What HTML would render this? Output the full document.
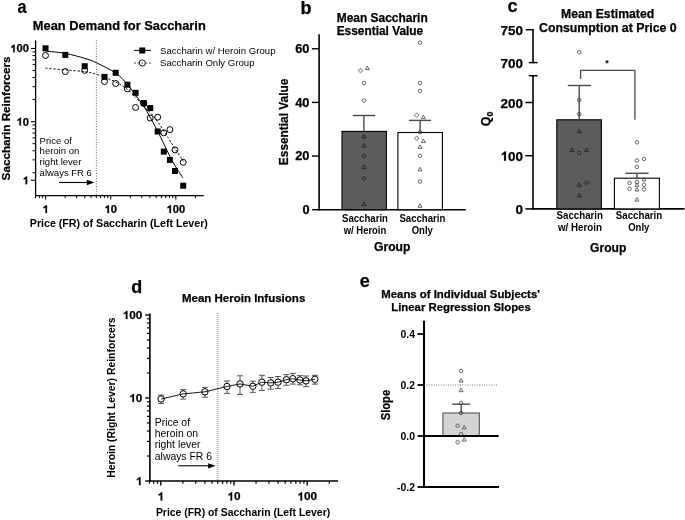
<!DOCTYPE html>
<html><head><meta charset="utf-8"><style>
html,body{margin:0;padding:0;background:#fff;}
.h{stroke:#000;stroke-width:0.25px;}
svg{display:block;filter:blur(0.3px);font-family:"Liberation Sans",sans-serif;}
</style></head><body>
<svg width="685" height="520" viewBox="0 0 685 520">
<rect width="685" height="520" fill="#fff"/>
<text x="17.45" y="12.7" font-size="18" font-weight="bold" class="h" textLength="9.1" lengthAdjust="spacingAndGlyphs" >a</text>
<text x="32.8" y="29.9" font-size="12.8" font-weight="bold" class="h" textLength="173" lengthAdjust="spacingAndGlyphs" >Mean Demand for Saccharin</text>
<line x1="35.6" y1="40.4" x2="35.6" y2="196.25" stroke="#000" stroke-width="1.3" />
<line x1="34.95" y1="195.6" x2="203.7" y2="195.6" stroke="#000" stroke-width="1.3" />
<line x1="31" y1="48.5" x2="35.6" y2="48.5" stroke="#000" stroke-width="1.1" />
<line x1="31" y1="121.7" x2="35.6" y2="121.7" stroke="#000" stroke-width="1.1" />
<line x1="31" y1="180.3" x2="35.6" y2="180.3" stroke="#000" stroke-width="1.1" />
<line x1="32.5" y1="99.52" x2="35.6" y2="99.52" stroke="#000" stroke-width="1" />
<line x1="32.5" y1="172.72" x2="35.6" y2="172.72" stroke="#000" stroke-width="1" />
<line x1="32.5" y1="86.67" x2="35.6" y2="86.67" stroke="#000" stroke-width="1" />
<line x1="32.5" y1="159.87" x2="35.6" y2="159.87" stroke="#000" stroke-width="1" />
<line x1="32.5" y1="77.55" x2="35.6" y2="77.55" stroke="#000" stroke-width="1" />
<line x1="32.5" y1="150.75" x2="35.6" y2="150.75" stroke="#000" stroke-width="1" />
<line x1="32.5" y1="70.48" x2="35.6" y2="70.48" stroke="#000" stroke-width="1" />
<line x1="32.5" y1="143.68" x2="35.6" y2="143.68" stroke="#000" stroke-width="1" />
<line x1="32.5" y1="64.69" x2="35.6" y2="64.69" stroke="#000" stroke-width="1" />
<line x1="32.5" y1="137.89" x2="35.6" y2="137.89" stroke="#000" stroke-width="1" />
<line x1="32.5" y1="59.81" x2="35.6" y2="59.81" stroke="#000" stroke-width="1" />
<line x1="32.5" y1="133.01" x2="35.6" y2="133.01" stroke="#000" stroke-width="1" />
<line x1="32.5" y1="55.57" x2="35.6" y2="55.57" stroke="#000" stroke-width="1" />
<line x1="32.5" y1="128.77" x2="35.6" y2="128.77" stroke="#000" stroke-width="1" />
<line x1="32.5" y1="51.84" x2="35.6" y2="51.84" stroke="#000" stroke-width="1" />
<line x1="32.5" y1="125.04" x2="35.6" y2="125.04" stroke="#000" stroke-width="1" />
<path d="M818 0L543 0L543 1000C470 930 330 870 185 830L185 1065C290 1105 390 1165 470 1240C540 1305 590 1360 622 1409L818 1409Z" fill="#000" stroke="#000" stroke-width="0.25" vector-effect="non-scaling-stroke" transform="translate(10.21 52.35) scale(0.00547 -0.00547)"/>
<text x="16.44" y="52.35" font-size="11.2" font-weight="bold" class="h">00</text>
<path d="M818 0L543 0L543 1000C470 930 330 870 185 830L185 1065C290 1105 390 1165 470 1240C540 1305 590 1360 622 1409L818 1409Z" fill="#000" stroke="#000" stroke-width="0.25" vector-effect="non-scaling-stroke" transform="translate(16.44 125.55) scale(0.00547 -0.00547)"/>
<text x="22.67" y="125.55" font-size="11.2" font-weight="bold" class="h">0</text>
<path d="M818 0L543 0L543 1000C470 930 330 870 185 830L185 1065C290 1105 390 1165 470 1240C540 1305 590 1360 622 1409L818 1409Z" fill="#000" stroke="#000" stroke-width="0.25" vector-effect="non-scaling-stroke" transform="translate(22.67 184.15) scale(0.00547 -0.00547)"/>
<line x1="45.6" y1="195.6" x2="45.6" y2="199.6" stroke="#000" stroke-width="1.1" />
<line x1="110.7" y1="195.6" x2="110.7" y2="199.6" stroke="#000" stroke-width="1.1" />
<line x1="175.8" y1="195.6" x2="175.8" y2="199.6" stroke="#000" stroke-width="1.1" />
<line x1="35.52" y1="195.6" x2="35.52" y2="198.2" stroke="#000" stroke-width="1" />
<line x1="39.29" y1="195.6" x2="39.29" y2="198.2" stroke="#000" stroke-width="1" />
<line x1="42.62" y1="195.6" x2="42.62" y2="198.2" stroke="#000" stroke-width="1" />
<line x1="65.2" y1="195.6" x2="65.2" y2="198.2" stroke="#000" stroke-width="1" />
<line x1="76.66" y1="195.6" x2="76.66" y2="198.2" stroke="#000" stroke-width="1" />
<line x1="84.79" y1="195.6" x2="84.79" y2="198.2" stroke="#000" stroke-width="1" />
<line x1="91.1" y1="195.6" x2="91.1" y2="198.2" stroke="#000" stroke-width="1" />
<line x1="96.26" y1="195.6" x2="96.26" y2="198.2" stroke="#000" stroke-width="1" />
<line x1="100.62" y1="195.6" x2="100.62" y2="198.2" stroke="#000" stroke-width="1" />
<line x1="104.39" y1="195.6" x2="104.39" y2="198.2" stroke="#000" stroke-width="1" />
<line x1="107.72" y1="195.6" x2="107.72" y2="198.2" stroke="#000" stroke-width="1" />
<line x1="130.3" y1="195.6" x2="130.3" y2="198.2" stroke="#000" stroke-width="1" />
<line x1="141.76" y1="195.6" x2="141.76" y2="198.2" stroke="#000" stroke-width="1" />
<line x1="149.89" y1="195.6" x2="149.89" y2="198.2" stroke="#000" stroke-width="1" />
<line x1="156.2" y1="195.6" x2="156.2" y2="198.2" stroke="#000" stroke-width="1" />
<line x1="161.36" y1="195.6" x2="161.36" y2="198.2" stroke="#000" stroke-width="1" />
<line x1="165.72" y1="195.6" x2="165.72" y2="198.2" stroke="#000" stroke-width="1" />
<line x1="169.49" y1="195.6" x2="169.49" y2="198.2" stroke="#000" stroke-width="1" />
<line x1="172.82" y1="195.6" x2="172.82" y2="198.2" stroke="#000" stroke-width="1" />
<line x1="195.4" y1="195.6" x2="195.4" y2="198.2" stroke="#000" stroke-width="1" />
<path d="M818 0L543 0L543 1000C470 930 330 870 185 830L185 1065C290 1105 390 1165 470 1240C540 1305 590 1360 622 1409L818 1409Z" fill="#000" stroke="#000" stroke-width="0.25" vector-effect="non-scaling-stroke" transform="translate(42.49 212.9) scale(0.00547 -0.00547)"/>
<path d="M818 0L543 0L543 1000C470 930 330 870 185 830L185 1065C290 1105 390 1165 470 1240C540 1305 590 1360 622 1409L818 1409Z" fill="#000" stroke="#000" stroke-width="0.25" vector-effect="non-scaling-stroke" transform="translate(104.47 212.9) scale(0.00547 -0.00547)"/>
<text x="110.7" y="212.9" font-size="11.2" font-weight="bold" class="h">0</text>
<path d="M818 0L543 0L543 1000C470 930 330 870 185 830L185 1065C290 1105 390 1165 470 1240C540 1305 590 1360 622 1409L818 1409Z" fill="#000" stroke="#000" stroke-width="0.25" vector-effect="non-scaling-stroke" transform="translate(166.46 212.9) scale(0.00547 -0.00547)"/>
<text x="172.69" y="212.9" font-size="11.2" font-weight="bold" class="h">00</text>
<text x="29.8" y="226.8" font-size="10.6" font-weight="bold" textLength="178.1" lengthAdjust="spacingAndGlyphs" >Price (FR) of Saccharin (Left Lever)</text>
<text x="9.7" y="118.4" font-size="11.6" text-anchor="middle" font-weight="bold" class="h" textLength="124" lengthAdjust="spacingAndGlyphs" transform="rotate(-90 9.7 118.4)" >Saccharin Reinforcers</text>
<line x1="96.4" y1="40.4" x2="96.4" y2="195.6" stroke="#444" stroke-width="0.8" stroke-dasharray="1 1.6"/>
<text x="39.6" y="143.75" font-size="9.5" >Price of</text>
<text x="39.6" y="154.3" font-size="9.5" >heroin on</text>
<text x="39.6" y="164.9" font-size="9.5" >right lever</text>
<text x="39.6" y="175.5" font-size="9.5" >always FR 6</text>
<line x1="59" y1="182.5" x2="88" y2="182.5" stroke="#000" stroke-width="1.1" />
<path d="M86.8 179.8L94.4 182.5L86.8 185.2Z" fill="#000" stroke="none" stroke-width="0" />
<line x1="134.1" y1="50.4" x2="150.9" y2="50.4" stroke="#000" stroke-width="1" />
<rect x="139.25" y="47.5" width="6" height="6" fill="#000" stroke="none" stroke-width="0"/>
<text x="160" y="53.6" font-size="9.6" textLength="115.5" lengthAdjust="spacingAndGlyphs" >Saccharin w/ Heroin Group</text>
<path d="M134.1 63H135.9M137.6 63H138.8M141.5 63H143.1M146.2 63H147.4M149.1 63H150.8" fill="none" stroke="#333" stroke-width="1" />
<circle cx="142.3" cy="63" r="3.1" fill="none" stroke="#000" stroke-width="0.95"/>
<text x="160" y="65.6" font-size="9.6" textLength="94.5" lengthAdjust="spacingAndGlyphs" >Saccharin Only Group</text>
<path d="M45.5 68.2C48.8 68.48 58.77 69.32 65.3 69.9C71.83 70.48 79.5 70.95 84.7 71.7C89.9 72.45 91.32 72.68 96.5 74.4C101.68 76.12 110.67 79.48 115.8 82C120.93 84.52 123.95 86.92 127.3 89.5C130.65 92.08 133.18 94.67 135.9 97.5C138.62 100.33 141.07 103.78 143.65 106.5C146.23 109.22 148.94 111.1 151.4 113.8C153.86 116.5 155.65 118.77 158.4 122.7C161.15 126.63 165.13 133.08 167.9 137.4C170.67 141.72 172.42 144.58 175 148.6C177.58 152.62 182 159.35 183.4 161.5" fill="none" stroke="#000" stroke-width="0.95" stroke-dasharray="2.2 1.8"/>
<path d="M45.5 51C48.8 51.4 58.77 52.18 65.3 53.4C71.83 54.62 79.5 56.73 84.7 58.3C89.9 59.87 91.32 60.32 96.5 62.8C101.68 65.28 110.67 69.63 115.8 73.2C120.93 76.77 123.95 80.48 127.3 84.2C130.65 87.92 133.18 91.87 135.9 95.5C138.62 99.13 141.28 102.38 143.65 106C146.02 109.62 147.76 113 150.1 117.2C152.44 121.4 155.42 126.77 157.7 131.2C159.98 135.63 161.77 139.62 163.8 143.8C165.83 147.98 167.73 152.17 169.9 156.3C172.07 160.43 174.63 165.02 176.8 168.6C178.97 172.18 181.88 176.27 182.9 177.8" fill="none" stroke="#000" stroke-width="1" />
<circle cx="45.5" cy="55.5" r="3" fill="none" stroke="#000" stroke-width="1"/>
<circle cx="65.3" cy="71.5" r="3" fill="none" stroke="#000" stroke-width="1"/>
<circle cx="84.7" cy="70.3" r="3" fill="none" stroke="#000" stroke-width="1"/>
<circle cx="104.5" cy="81.5" r="3" fill="none" stroke="#000" stroke-width="1"/>
<circle cx="115.7" cy="83.5" r="3" fill="none" stroke="#000" stroke-width="1"/>
<circle cx="127.4" cy="88.8" r="3" fill="none" stroke="#000" stroke-width="1"/>
<circle cx="135.6" cy="107.5" r="3" fill="none" stroke="#000" stroke-width="1"/>
<circle cx="143.7" cy="103.5" r="3" fill="none" stroke="#000" stroke-width="1"/>
<circle cx="150.2" cy="118" r="3" fill="none" stroke="#000" stroke-width="1"/>
<circle cx="157.7" cy="117.2" r="3" fill="none" stroke="#000" stroke-width="1"/>
<circle cx="163.8" cy="132.8" r="3" fill="none" stroke="#000" stroke-width="1"/>
<circle cx="169.9" cy="129.6" r="3" fill="none" stroke="#000" stroke-width="1"/>
<circle cx="175" cy="149.9" r="3" fill="none" stroke="#000" stroke-width="1"/>
<circle cx="183.2" cy="162.3" r="3" fill="none" stroke="#000" stroke-width="1"/>
<rect x="42.5" y="45.3" width="6" height="6" fill="#000" stroke="none" stroke-width="0"/>
<rect x="62.3" y="51.9" width="6" height="6" fill="#000" stroke="none" stroke-width="0"/>
<rect x="81.7" y="63.2" width="6" height="6" fill="#000" stroke="none" stroke-width="0"/>
<rect x="101.5" y="73.9" width="6" height="6" fill="#000" stroke="none" stroke-width="0"/>
<rect x="112.7" y="69.8" width="6" height="6" fill="#000" stroke="none" stroke-width="0"/>
<rect x="124.4" y="81.7" width="6" height="6" fill="#000" stroke="none" stroke-width="0"/>
<rect x="132.6" y="89.8" width="6" height="6" fill="#000" stroke="none" stroke-width="0"/>
<rect x="140.7" y="100.1" width="6" height="6" fill="#000" stroke="none" stroke-width="0"/>
<rect x="147.2" y="105.1" width="6" height="6" fill="#000" stroke="none" stroke-width="0"/>
<rect x="154.7" y="128.5" width="6" height="6" fill="#000" stroke="none" stroke-width="0"/>
<rect x="160.8" y="148.6" width="6" height="6" fill="#000" stroke="none" stroke-width="0"/>
<rect x="166.9" y="156.9" width="6" height="6" fill="#000" stroke="none" stroke-width="0"/>
<rect x="172" y="168" width="6" height="6" fill="#000" stroke="none" stroke-width="0"/>
<rect x="180.2" y="182.7" width="6" height="6" fill="#000" stroke="none" stroke-width="0"/>
<text x="300.5" y="14.2" font-size="18" font-weight="bold" class="h" >b</text>
<text x="336.7" y="21.6" font-size="11.9" font-weight="bold" class="h" textLength="91" lengthAdjust="spacingAndGlyphs" >Mean Saccharin</text>
<text x="336.7" y="35.1" font-size="11.9" font-weight="bold" class="h" textLength="86.5" lengthAdjust="spacingAndGlyphs" >Essential Value</text>
<line x1="319.1" y1="34.2" x2="319.1" y2="210.5" stroke="#000" stroke-width="1.6" />
<line x1="318.3" y1="209.7" x2="465.8" y2="209.7" stroke="#000" stroke-width="1.6" />
<line x1="312" y1="209.7" x2="319.1" y2="209.7" stroke="#000" stroke-width="1.4" />
<text x="302.38" y="214.1" font-size="12.8" font-weight="bold" class="h">0</text>
<line x1="312" y1="156.05" x2="319.1" y2="156.05" stroke="#000" stroke-width="1.4" />
<text x="295.26" y="160.45" font-size="12.8" font-weight="bold" class="h">20</text>
<line x1="312" y1="102.4" x2="319.1" y2="102.4" stroke="#000" stroke-width="1.4" />
<text x="295.26" y="106.8" font-size="12.8" font-weight="bold" class="h">40</text>
<line x1="312" y1="48.75" x2="319.1" y2="48.75" stroke="#000" stroke-width="1.4" />
<text x="295.26" y="53.15" font-size="12.8" font-weight="bold" class="h">60</text>
<text x="288.3" y="121.9" font-size="11.9" text-anchor="middle" font-weight="bold" class="h" textLength="86.5" lengthAdjust="spacingAndGlyphs" transform="rotate(-90 288.3 121.9)" >Essential Value</text>
<rect x="342" y="131.4" width="44.4" height="78.3" fill="#5c5c5c" stroke="#000" stroke-width="1.1"/>
<rect x="397.9" y="132.5" width="44.5" height="77.2" fill="#fff" stroke="#000" stroke-width="1.1"/>
<line x1="363.9" y1="115.5" x2="363.9" y2="131.4" stroke="#4a4a4a" stroke-width="1.4" />
<line x1="352.8" y1="115.5" x2="375" y2="115.5" stroke="#4a4a4a" stroke-width="1.4" />
<line x1="420.1" y1="120.4" x2="420.1" y2="132.5" stroke="#4a4a4a" stroke-width="1.4" />
<line x1="409" y1="120.4" x2="431" y2="120.4" stroke="#4a4a4a" stroke-width="1.4" />
<path d="M360.5 68.3L362.8 70.6L360.5 72.9L358.2 70.6Z" fill="none" stroke="#3a3a3a" stroke-width="0.75" />
<path d="M365.3 69.5L367.3 66L369.3 69.5Z" fill="none" stroke="#3a3a3a" stroke-width="0.75" />
<circle cx="364" cy="83" r="1.75" fill="none" stroke="#3a3a3a" stroke-width="0.75"/>
<circle cx="364" cy="100.5" r="1.75" fill="none" stroke="#3a3a3a" stroke-width="0.75"/>
<path d="M361.9 138.1L363.9 134.6L365.9 138.1Z" fill="none" stroke="#1a1a1a" stroke-width="0.75" />
<path d="M361.9 147.1L363.9 143.6L365.9 147.1Z" fill="none" stroke="#1a1a1a" stroke-width="0.75" />
<circle cx="363.9" cy="155.8" r="1.75" fill="none" stroke="#1a1a1a" stroke-width="0.75"/>
<path d="M361.9 168.5L363.9 165L365.9 168.5Z" fill="none" stroke="#1a1a1a" stroke-width="0.75" />
<circle cx="363.9" cy="178.5" r="1.75" fill="none" stroke="#1a1a1a" stroke-width="0.75"/>
<path d="M361.9 205.5L363.9 202L365.9 205.5Z" fill="none" stroke="#1a1a1a" stroke-width="0.75" />
<circle cx="420" cy="42.6" r="1.75" fill="none" stroke="#3a3a3a" stroke-width="0.75"/>
<circle cx="420" cy="83" r="1.75" fill="none" stroke="#3a3a3a" stroke-width="0.75"/>
<circle cx="420" cy="90.9" r="1.75" fill="none" stroke="#3a3a3a" stroke-width="0.75"/>
<path d="M416.7 112.9L419 115.2L416.7 117.5L414.4 115.2Z" fill="none" stroke="#3a3a3a" stroke-width="0.75" />
<path d="M421.4 118.7L423.4 115.2L425.4 118.7Z" fill="none" stroke="#3a3a3a" stroke-width="0.75" />
<circle cx="420.1" cy="132.2" r="1.75" fill="none" stroke="#3a3a3a" stroke-width="0.75"/>
<path d="M416.7 136L419 138.3L416.7 140.6L414.4 138.3Z" fill="none" stroke="#3a3a3a" stroke-width="0.75" />
<path d="M421.4 142.5L423.4 139L425.4 142.5Z" fill="none" stroke="#3a3a3a" stroke-width="0.75" />
<path d="M418.1 148.4L420.1 144.9L422.1 148.4Z" fill="none" stroke="#3a3a3a" stroke-width="0.75" />
<circle cx="420" cy="155.8" r="1.75" fill="none" stroke="#3a3a3a" stroke-width="0.75"/>
<path d="M418 170.8L420 167.3L422 170.8Z" fill="none" stroke="#3a3a3a" stroke-width="0.75" />
<circle cx="420" cy="181.5" r="1.75" fill="none" stroke="#3a3a3a" stroke-width="0.75"/>
<path d="M418 207.3L420 203.8L422 207.3Z" fill="none" stroke="#3a3a3a" stroke-width="0.75" />
<text x="365" y="221.9" font-size="10.2" text-anchor="middle" font-weight="bold" textLength="46" lengthAdjust="spacingAndGlyphs" >Saccharin</text>
<text x="365" y="233.5" font-size="10.2" text-anchor="middle" font-weight="bold" textLength="42.6" lengthAdjust="spacingAndGlyphs" >w/ Heroin</text>
<text x="422.4" y="221.9" font-size="10.2" text-anchor="middle" font-weight="bold" textLength="46" lengthAdjust="spacingAndGlyphs" >Saccharin</text>
<text x="422.3" y="233.5" font-size="10.2" text-anchor="middle" font-weight="bold" textLength="21.2" lengthAdjust="spacingAndGlyphs" >Only</text>
<text x="374.1" y="251.3" font-size="12.4" font-weight="bold" class="h" textLength="36.3" lengthAdjust="spacingAndGlyphs" >Group</text>

<text x="507.4" y="11.5" font-size="18" font-weight="bold" class="h" >c</text>
<text x="561" y="17.7" font-size="12.3" font-weight="bold" class="h" textLength="93.2" lengthAdjust="spacingAndGlyphs" >Mean Estimated</text>
<text x="539" y="31.7" font-size="12.3" font-weight="bold" class="h" textLength="137.7" lengthAdjust="spacingAndGlyphs" >Consumption at Price 0</text>
<line x1="533" y1="28.9" x2="533" y2="62.6" stroke="#000" stroke-width="1.6" />
<line x1="525.7" y1="29.7" x2="533" y2="29.7" stroke="#000" stroke-width="1.5" />
<line x1="528.8" y1="62.6" x2="537.6" y2="62.6" stroke="#000" stroke-width="1.5" />
<line x1="533" y1="75.7" x2="533" y2="209.7" stroke="#000" stroke-width="1.6" />
<line x1="528.8" y1="75.7" x2="537.6" y2="75.7" stroke="#000" stroke-width="1.5" />
<line x1="525.4" y1="208.9" x2="533" y2="208.9" stroke="#000" stroke-width="1.5" />
<line x1="525.4" y1="155.7" x2="533" y2="155.7" stroke="#000" stroke-width="1.5" />
<line x1="525.4" y1="102.5" x2="533" y2="102.5" stroke="#000" stroke-width="1.5" />
<text x="500.57" y="34.7" font-size="13.5" font-weight="bold" class="h">750</text>
<text x="500.57" y="67.6" font-size="13.5" font-weight="bold" class="h">700</text>
<text x="500.57" y="107.5" font-size="13.5" font-weight="bold" class="h">200</text>
<path d="M818 0L543 0L543 1000C470 930 330 870 185 830L185 1065C290 1105 390 1165 470 1240C540 1305 590 1360 622 1409L818 1409Z" fill="#000" stroke="#000" stroke-width="0.25" vector-effect="non-scaling-stroke" transform="translate(500.57 160.7) scale(0.00659 -0.00659)"/>
<text x="508.08" y="160.7" font-size="13.5" font-weight="bold" class="h">00</text>
<text x="515.59" y="213.9" font-size="13.5" font-weight="bold" class="h">0</text>
<line x1="532.2" y1="208.9" x2="684.5" y2="208.9" stroke="#000" stroke-width="1.6" />
<text x="0" y="0" font-size="12.4" font-weight="bold" class="h" transform="translate(490.2 126.2) rotate(-90)">Q<tspan font-size="8.8" dy="2.6">0</tspan></text>
<rect x="556.8" y="119.8" width="44.6" height="89.1" fill="#5c5c5c" stroke="#000" stroke-width="1.1"/>
<rect x="614.4" y="178.2" width="45" height="30.7" fill="#fff" stroke="#000" stroke-width="1.1"/>
<line x1="579.2" y1="85.5" x2="579.2" y2="119.8" stroke="#4a4a4a" stroke-width="1.4" />
<line x1="567.8" y1="85.5" x2="590.9" y2="85.5" stroke="#4a4a4a" stroke-width="1.4" />
<line x1="636.9" y1="173.3" x2="636.9" y2="178.2" stroke="#4a4a4a" stroke-width="1.4" />
<line x1="625.4" y1="173.3" x2="648.6" y2="173.3" stroke="#4a4a4a" stroke-width="1.4" />
<path d="M580.6 78.9V70.3H634.9V119.7" fill="none" stroke="#4a4a4a" stroke-width="1.3" />
<text x="607" y="66" font-size="9" text-anchor="middle" font-weight="bold" >*</text>
<circle cx="579.2" cy="52.3" r="1.75" fill="none" stroke="#3a3a3a" stroke-width="0.75"/>
<circle cx="579.2" cy="100.1" r="1.75" fill="none" stroke="#3a3a3a" stroke-width="0.75"/>
<circle cx="579.2" cy="114.1" r="1.75" fill="none" stroke="#3a3a3a" stroke-width="0.75"/>
<path d="M577.2 132.6L579.2 129.1L581.2 132.6Z" fill="none" stroke="#1a1a1a" stroke-width="0.75" />
<path d="M570 151.4L572 147.9L574 151.4Z" fill="none" stroke="#1a1a1a" stroke-width="0.75" />
<circle cx="579.2" cy="152.9" r="1.75" fill="none" stroke="#1a1a1a" stroke-width="0.75"/>
<path d="M584.6 151.4L586.6 147.9L588.6 151.4Z" fill="none" stroke="#1a1a1a" stroke-width="0.75" />
<circle cx="586.6" cy="182.6" r="1.75" fill="none" stroke="#1a1a1a" stroke-width="0.75"/>
<path d="M577.2 186.4L579.2 182.9L581.2 186.4Z" fill="none" stroke="#1a1a1a" stroke-width="0.75" />
<path d="M577.2 197L579.2 193.5L581.2 197Z" fill="none" stroke="#1a1a1a" stroke-width="0.75" />
<circle cx="636.9" cy="142.3" r="1.75" fill="none" stroke="#3a3a3a" stroke-width="0.75"/>
<circle cx="636.9" cy="160.5" r="1.75" fill="none" stroke="#3a3a3a" stroke-width="0.75"/>
<circle cx="644" cy="158.9" r="1.75" fill="none" stroke="#3a3a3a" stroke-width="0.75"/>
<circle cx="636.9" cy="166.9" r="1.75" fill="none" stroke="#3a3a3a" stroke-width="0.75"/>
<path d="M642 181L644 177.5L646 181Z" fill="none" stroke="#3a3a3a" stroke-width="0.75" />
<circle cx="629.6" cy="183" r="1.75" fill="none" stroke="#3a3a3a" stroke-width="0.75"/>
<circle cx="636.9" cy="182.1" r="1.75" fill="none" stroke="#3a3a3a" stroke-width="0.75"/>
<path d="M634.9 186.4L636.9 182.9L638.9 186.4Z" fill="none" stroke="#3a3a3a" stroke-width="0.75" />
<circle cx="644" cy="184.8" r="1.75" fill="none" stroke="#3a3a3a" stroke-width="0.75"/>
<circle cx="629.6" cy="188.9" r="1.75" fill="none" stroke="#3a3a3a" stroke-width="0.75"/>
<path d="M634.9 191L636.9 187.5L638.9 191Z" fill="none" stroke="#3a3a3a" stroke-width="0.75" />
<circle cx="644" cy="189.4" r="1.75" fill="none" stroke="#3a3a3a" stroke-width="0.75"/>
<path d="M634.9 201.1L636.9 197.6L638.9 201.1Z" fill="none" stroke="#3a3a3a" stroke-width="0.75" />
<text x="579.8" y="219.3" font-size="10.2" text-anchor="middle" font-weight="bold" textLength="46.4" lengthAdjust="spacingAndGlyphs" >Saccharin</text>
<text x="580" y="230.9" font-size="10.2" text-anchor="middle" font-weight="bold" textLength="44" lengthAdjust="spacingAndGlyphs" >w/ Heroin</text>
<text x="639" y="219.3" font-size="10.2" text-anchor="middle" font-weight="bold" textLength="46.4" lengthAdjust="spacingAndGlyphs" >Saccharin</text>
<text x="638.8" y="230.9" font-size="10.2" text-anchor="middle" font-weight="bold" textLength="21.2" lengthAdjust="spacingAndGlyphs" >Only</text>
<text x="608.2" y="252" font-size="12.4" text-anchor="middle" font-weight="bold" class="h" textLength="36.3" lengthAdjust="spacingAndGlyphs" >Group</text>
<text x="131.3" y="292.8" font-size="18" font-weight="bold" class="h" >d</text>
<text x="181.9" y="302.3" font-size="11.5" font-weight="bold" class="h" textLength="123.4" lengthAdjust="spacingAndGlyphs" >Mean Heroin Infusions</text>
<line x1="149.9" y1="313.4" x2="149.9" y2="481.8" stroke="#000" stroke-width="1.6" />
<line x1="149.1" y1="481" x2="338" y2="481" stroke="#000" stroke-width="1.6" />
<line x1="145.2" y1="481" x2="149.9" y2="481" stroke="#000" stroke-width="1.4" />
<line x1="145.2" y1="398" x2="149.9" y2="398" stroke="#000" stroke-width="1.4" />
<line x1="145.2" y1="315" x2="149.9" y2="315" stroke="#000" stroke-width="1.4" />
<line x1="146.9" y1="456.01" x2="149.9" y2="456.01" stroke="#000" stroke-width="1.2" />
<line x1="146.9" y1="441.4" x2="149.9" y2="441.4" stroke="#000" stroke-width="1.2" />
<line x1="146.9" y1="431.03" x2="149.9" y2="431.03" stroke="#000" stroke-width="1.2" />
<line x1="146.9" y1="422.99" x2="149.9" y2="422.99" stroke="#000" stroke-width="1.2" />
<line x1="146.9" y1="416.41" x2="149.9" y2="416.41" stroke="#000" stroke-width="1.2" />
<line x1="146.9" y1="410.86" x2="149.9" y2="410.86" stroke="#000" stroke-width="1.2" />
<line x1="146.9" y1="406.04" x2="149.9" y2="406.04" stroke="#000" stroke-width="1.2" />
<line x1="146.9" y1="401.8" x2="149.9" y2="401.8" stroke="#000" stroke-width="1.2" />
<line x1="146.9" y1="373.01" x2="149.9" y2="373.01" stroke="#000" stroke-width="1.2" />
<line x1="146.9" y1="358.4" x2="149.9" y2="358.4" stroke="#000" stroke-width="1.2" />
<line x1="146.9" y1="348.03" x2="149.9" y2="348.03" stroke="#000" stroke-width="1.2" />
<line x1="146.9" y1="339.99" x2="149.9" y2="339.99" stroke="#000" stroke-width="1.2" />
<line x1="146.9" y1="333.41" x2="149.9" y2="333.41" stroke="#000" stroke-width="1.2" />
<line x1="146.9" y1="327.86" x2="149.9" y2="327.86" stroke="#000" stroke-width="1.2" />
<line x1="146.9" y1="323.04" x2="149.9" y2="323.04" stroke="#000" stroke-width="1.2" />
<line x1="146.9" y1="318.8" x2="149.9" y2="318.8" stroke="#000" stroke-width="1.2" />
<path d="M818 0L543 0L543 1000C470 930 330 870 185 830L185 1065C290 1105 390 1165 470 1240C540 1305 590 1360 622 1409L818 1409Z" fill="#000" stroke="#000" stroke-width="0.25" vector-effect="non-scaling-stroke" transform="translate(122.71 319.06) scale(0.00576 -0.00576)"/>
<text x="129.27" y="319.06" font-size="11.8" font-weight="bold" class="h">00</text>
<path d="M818 0L543 0L543 1000C470 930 330 870 185 830L185 1065C290 1105 390 1165 470 1240C540 1305 590 1360 622 1409L818 1409Z" fill="#000" stroke="#000" stroke-width="0.25" vector-effect="non-scaling-stroke" transform="translate(129.27 402.06) scale(0.00576 -0.00576)"/>
<text x="135.84" y="402.06" font-size="11.8" font-weight="bold" class="h">0</text>
<path d="M818 0L543 0L543 1000C470 930 330 870 185 830L185 1065C290 1105 390 1165 470 1240C540 1305 590 1360 622 1409L818 1409Z" fill="#000" stroke="#000" stroke-width="0.25" vector-effect="non-scaling-stroke" transform="translate(135.84 485.06) scale(0.00576 -0.00576)"/>
<line x1="160.8" y1="481" x2="160.8" y2="485.4" stroke="#000" stroke-width="1.4" />
<line x1="234" y1="481" x2="234" y2="485.4" stroke="#000" stroke-width="1.4" />
<line x1="307.2" y1="481" x2="307.2" y2="485.4" stroke="#000" stroke-width="1.4" />
<line x1="149.46" y1="481" x2="149.46" y2="483.8" stroke="#000" stroke-width="1.2" />
<line x1="153.71" y1="481" x2="153.71" y2="483.8" stroke="#000" stroke-width="1.2" />
<line x1="157.45" y1="481" x2="157.45" y2="483.8" stroke="#000" stroke-width="1.2" />
<line x1="182.84" y1="481" x2="182.84" y2="483.8" stroke="#000" stroke-width="1.2" />
<line x1="195.73" y1="481" x2="195.73" y2="483.8" stroke="#000" stroke-width="1.2" />
<line x1="204.87" y1="481" x2="204.87" y2="483.8" stroke="#000" stroke-width="1.2" />
<line x1="211.96" y1="481" x2="211.96" y2="483.8" stroke="#000" stroke-width="1.2" />
<line x1="217.76" y1="481" x2="217.76" y2="483.8" stroke="#000" stroke-width="1.2" />
<line x1="222.66" y1="481" x2="222.66" y2="483.8" stroke="#000" stroke-width="1.2" />
<line x1="226.91" y1="481" x2="226.91" y2="483.8" stroke="#000" stroke-width="1.2" />
<line x1="230.65" y1="481" x2="230.65" y2="483.8" stroke="#000" stroke-width="1.2" />
<line x1="256.04" y1="481" x2="256.04" y2="483.8" stroke="#000" stroke-width="1.2" />
<line x1="268.93" y1="481" x2="268.93" y2="483.8" stroke="#000" stroke-width="1.2" />
<line x1="278.07" y1="481" x2="278.07" y2="483.8" stroke="#000" stroke-width="1.2" />
<line x1="285.16" y1="481" x2="285.16" y2="483.8" stroke="#000" stroke-width="1.2" />
<line x1="290.96" y1="481" x2="290.96" y2="483.8" stroke="#000" stroke-width="1.2" />
<line x1="295.86" y1="481" x2="295.86" y2="483.8" stroke="#000" stroke-width="1.2" />
<line x1="300.11" y1="481" x2="300.11" y2="483.8" stroke="#000" stroke-width="1.2" />
<line x1="303.85" y1="481" x2="303.85" y2="483.8" stroke="#000" stroke-width="1.2" />
<line x1="329.24" y1="481" x2="329.24" y2="483.8" stroke="#000" stroke-width="1.2" />
<path d="M818 0L543 0L543 1000C470 930 330 870 185 830L185 1065C290 1105 390 1165 470 1240C540 1305 590 1360 622 1409L818 1409Z" fill="#000" stroke="#000" stroke-width="0.25" vector-effect="non-scaling-stroke" transform="translate(157.52 500.4) scale(0.00576 -0.00576)"/>
<path d="M818 0L543 0L543 1000C470 930 330 870 185 830L185 1065C290 1105 390 1165 470 1240C540 1305 590 1360 622 1409L818 1409Z" fill="#000" stroke="#000" stroke-width="0.25" vector-effect="non-scaling-stroke" transform="translate(227.44 500.4) scale(0.00576 -0.00576)"/>
<text x="234" y="500.4" font-size="11.8" font-weight="bold" class="h">0</text>
<path d="M818 0L543 0L543 1000C470 930 330 870 185 830L185 1065C290 1105 390 1165 470 1240C540 1305 590 1360 622 1409L818 1409Z" fill="#000" stroke="#000" stroke-width="0.25" vector-effect="non-scaling-stroke" transform="translate(297.36 500.4) scale(0.00576 -0.00576)"/>
<text x="303.92" y="500.4" font-size="11.8" font-weight="bold" class="h">00</text>
<text x="155.9" y="516.4" font-size="10.4" font-weight="bold" textLength="174.3" lengthAdjust="spacingAndGlyphs" >Price (FR) of Saccharin (Left Lever)</text>
<text x="114.6" y="397.5" font-size="10.4" text-anchor="middle" font-weight="bold" textLength="160.3" lengthAdjust="spacingAndGlyphs" transform="rotate(-90 114.6 397.5)" >Heroin (Right Lever) Reinforcers</text>
<line x1="217.8" y1="313" x2="217.8" y2="481" stroke="#a2a2a2" stroke-width="1.4" stroke-dasharray="1 1"/>
<text x="154.8" y="425.6" font-size="10.4" >Price of</text>
<text x="154.8" y="436.9" font-size="10.4" >heroin on</text>
<text x="154.8" y="448.2" font-size="10.4" >right lever</text>
<text x="154.8" y="459.6" font-size="10.4" >always FR 6</text>
<line x1="178.3" y1="465.8" x2="209.5" y2="465.8" stroke="#000" stroke-width="1.1" />
<path d="M208.2 463.2L215.6 465.8L208.2 468.4Z" fill="#000" stroke="none" stroke-width="0" />
<line x1="161.1" y1="395" x2="161.1" y2="403.4" stroke="#555" stroke-width="1" />
<line x1="158.1" y1="395" x2="164.1" y2="395" stroke="#555" stroke-width="1" />
<line x1="158.1" y1="403.4" x2="164.1" y2="403.4" stroke="#555" stroke-width="1" />
<line x1="183.2" y1="389.6" x2="183.2" y2="399.1" stroke="#555" stroke-width="1" />
<line x1="180.2" y1="389.6" x2="186.2" y2="389.6" stroke="#555" stroke-width="1" />
<line x1="180.2" y1="399.1" x2="186.2" y2="399.1" stroke="#555" stroke-width="1" />
<line x1="204.9" y1="387.4" x2="204.9" y2="397.2" stroke="#555" stroke-width="1" />
<line x1="201.9" y1="387.4" x2="207.9" y2="387.4" stroke="#555" stroke-width="1" />
<line x1="201.9" y1="397.2" x2="207.9" y2="397.2" stroke="#555" stroke-width="1" />
<line x1="227" y1="381" x2="227" y2="393.4" stroke="#555" stroke-width="1" />
<line x1="224" y1="381" x2="230" y2="381" stroke="#555" stroke-width="1" />
<line x1="224" y1="393.4" x2="230" y2="393.4" stroke="#555" stroke-width="1" />
<line x1="240" y1="375.8" x2="240" y2="394.5" stroke="#555" stroke-width="1" />
<line x1="237" y1="375.8" x2="243" y2="375.8" stroke="#555" stroke-width="1" />
<line x1="237" y1="394.5" x2="243" y2="394.5" stroke="#555" stroke-width="1" />
<line x1="252.8" y1="381.2" x2="252.8" y2="392.4" stroke="#555" stroke-width="1" />
<line x1="249.8" y1="381.2" x2="255.8" y2="381.2" stroke="#555" stroke-width="1" />
<line x1="249.8" y1="392.4" x2="255.8" y2="392.4" stroke="#555" stroke-width="1" />
<line x1="261.9" y1="375.3" x2="261.9" y2="390.4" stroke="#555" stroke-width="1" />
<line x1="258.9" y1="375.3" x2="264.9" y2="375.3" stroke="#555" stroke-width="1" />
<line x1="258.9" y1="390.4" x2="264.9" y2="390.4" stroke="#555" stroke-width="1" />
<line x1="270.7" y1="377.5" x2="270.7" y2="389.2" stroke="#555" stroke-width="1" />
<line x1="267.7" y1="377.5" x2="273.7" y2="377.5" stroke="#555" stroke-width="1" />
<line x1="267.7" y1="389.2" x2="273.7" y2="389.2" stroke="#555" stroke-width="1" />
<line x1="278" y1="376.5" x2="278" y2="388.6" stroke="#555" stroke-width="1" />
<line x1="275" y1="376.5" x2="281" y2="376.5" stroke="#555" stroke-width="1" />
<line x1="275" y1="388.6" x2="281" y2="388.6" stroke="#555" stroke-width="1" />
<line x1="286.4" y1="374.6" x2="286.4" y2="385.3" stroke="#555" stroke-width="1" />
<line x1="283.4" y1="374.6" x2="289.4" y2="374.6" stroke="#555" stroke-width="1" />
<line x1="283.4" y1="385.3" x2="289.4" y2="385.3" stroke="#555" stroke-width="1" />
<line x1="292.8" y1="373.4" x2="292.8" y2="384.1" stroke="#555" stroke-width="1" />
<line x1="289.8" y1="373.4" x2="295.8" y2="373.4" stroke="#555" stroke-width="1" />
<line x1="289.8" y1="384.1" x2="295.8" y2="384.1" stroke="#555" stroke-width="1" />
<line x1="299.9" y1="375.6" x2="299.9" y2="384.8" stroke="#555" stroke-width="1" />
<line x1="296.9" y1="375.6" x2="302.9" y2="375.6" stroke="#555" stroke-width="1" />
<line x1="296.9" y1="384.8" x2="302.9" y2="384.8" stroke="#555" stroke-width="1" />
<line x1="306" y1="376" x2="306" y2="386.6" stroke="#555" stroke-width="1" />
<line x1="303" y1="376" x2="309" y2="376" stroke="#555" stroke-width="1" />
<line x1="303" y1="386.6" x2="309" y2="386.6" stroke="#555" stroke-width="1" />
<line x1="314.9" y1="375.3" x2="314.9" y2="384.1" stroke="#555" stroke-width="1" />
<line x1="311.9" y1="375.3" x2="317.9" y2="375.3" stroke="#555" stroke-width="1" />
<line x1="311.9" y1="384.1" x2="317.9" y2="384.1" stroke="#555" stroke-width="1" />
<circle cx="161.1" cy="399" r="3.2" fill="#fff" stroke="none" stroke-width="0"/>
<circle cx="183.2" cy="393.9" r="3.2" fill="#fff" stroke="none" stroke-width="0"/>
<circle cx="204.9" cy="391.8" r="3.2" fill="#fff" stroke="none" stroke-width="0"/>
<circle cx="227" cy="386.5" r="3.2" fill="#fff" stroke="none" stroke-width="0"/>
<circle cx="240" cy="383.9" r="3.2" fill="#fff" stroke="none" stroke-width="0"/>
<circle cx="252.8" cy="386.3" r="3.2" fill="#fff" stroke="none" stroke-width="0"/>
<circle cx="261.9" cy="382.2" r="3.2" fill="#fff" stroke="none" stroke-width="0"/>
<circle cx="270.7" cy="382.9" r="3.2" fill="#fff" stroke="none" stroke-width="0"/>
<circle cx="278" cy="382.2" r="3.2" fill="#fff" stroke="none" stroke-width="0"/>
<circle cx="286.4" cy="379.7" r="3.2" fill="#fff" stroke="none" stroke-width="0"/>
<circle cx="292.8" cy="378.7" r="3.2" fill="#fff" stroke="none" stroke-width="0"/>
<circle cx="299.9" cy="380" r="3.2" fill="#fff" stroke="none" stroke-width="0"/>
<circle cx="306" cy="380.9" r="3.2" fill="#fff" stroke="none" stroke-width="0"/>
<circle cx="314.9" cy="379.3" r="3.2" fill="#fff" stroke="none" stroke-width="0"/>
<path d="M161.1 399L183.2 393.9L204.9 391.8L227 386.5L240 383.9L252.8 386.3L261.9 382.2L270.7 382.9L278 382.2L286.4 379.7L292.8 378.7L299.9 380L306 380.9L314.9 379.3" fill="none" stroke="#000" stroke-width="0.9" />
<circle cx="161.1" cy="399" r="3.2" fill="none" stroke="#000" stroke-width="1"/>
<circle cx="183.2" cy="393.9" r="3.2" fill="none" stroke="#000" stroke-width="1"/>
<circle cx="204.9" cy="391.8" r="3.2" fill="none" stroke="#000" stroke-width="1"/>
<circle cx="227" cy="386.5" r="3.2" fill="none" stroke="#000" stroke-width="1"/>
<circle cx="240" cy="383.9" r="3.2" fill="none" stroke="#000" stroke-width="1"/>
<circle cx="252.8" cy="386.3" r="3.2" fill="none" stroke="#000" stroke-width="1"/>
<circle cx="261.9" cy="382.2" r="3.2" fill="none" stroke="#000" stroke-width="1"/>
<circle cx="270.7" cy="382.9" r="3.2" fill="none" stroke="#000" stroke-width="1"/>
<circle cx="278" cy="382.2" r="3.2" fill="none" stroke="#000" stroke-width="1"/>
<circle cx="286.4" cy="379.7" r="3.2" fill="none" stroke="#000" stroke-width="1"/>
<circle cx="292.8" cy="378.7" r="3.2" fill="none" stroke="#000" stroke-width="1"/>
<circle cx="299.9" cy="380" r="3.2" fill="none" stroke="#000" stroke-width="1"/>
<circle cx="306" cy="380.9" r="3.2" fill="none" stroke="#000" stroke-width="1"/>
<circle cx="314.9" cy="379.3" r="3.2" fill="none" stroke="#000" stroke-width="1"/>
<text x="359.85" y="287.1" font-size="18" font-weight="bold" class="h" >e</text>
<text x="460.6" y="297.9" font-size="11.3" text-anchor="middle" font-weight="bold" class="h" textLength="158.6" lengthAdjust="spacingAndGlyphs" >Means of Individual Subjects'</text>
<text x="461" y="310.6" font-size="11.3" text-anchor="middle" font-weight="bold" class="h" textLength="139.5" lengthAdjust="spacingAndGlyphs" >Linear Regression Slopes</text>
<line x1="424" y1="320.8" x2="424" y2="488" stroke="#000" stroke-width="2" />
<line x1="423" y1="487" x2="499" y2="487" stroke="#000" stroke-width="2" />
<line x1="417.5" y1="334" x2="424" y2="334" stroke="#000" stroke-width="1.8" />
<line x1="417.5" y1="385" x2="424" y2="385" stroke="#000" stroke-width="1.8" />
<line x1="417.5" y1="436" x2="424" y2="436" stroke="#000" stroke-width="1.8" />
<line x1="417.5" y1="487" x2="424" y2="487" stroke="#000" stroke-width="1.8" />
<text x="400.54" y="337.6" font-size="10.4" font-weight="bold">0.4</text>
<text x="400.54" y="388.6" font-size="10.4" font-weight="bold">0.2</text>
<text x="400.54" y="439.6" font-size="10.4" font-weight="bold">0.0</text>
<text x="397.08" y="490.6" font-size="10.4" font-weight="bold">-0.2</text>
<line x1="424" y1="385" x2="497.7" y2="385" stroke="#555" stroke-width="0.8" stroke-dasharray="1 1.4"/>
<rect x="442.9" y="413" width="36.4" height="23" fill="#d4d4d4" stroke="#444" stroke-width="1"/>
<line x1="424" y1="436" x2="498.6" y2="436" stroke="#000" stroke-width="1.8" />
<line x1="461.2" y1="404.2" x2="461.2" y2="413" stroke="#4a4a4a" stroke-width="1.4" />
<line x1="452.3" y1="404.2" x2="470.3" y2="404.2" stroke="#4a4a4a" stroke-width="1.4" />
<circle cx="461.1" cy="371.1" r="1.75" fill="none" stroke="#3a3a3a" stroke-width="0.75"/>
<path d="M459.1 382L461.1 378.5L463.1 382Z" fill="none" stroke="#3a3a3a" stroke-width="0.75" />
<path d="M459.1 391.7L461.1 388.2L463.1 391.7Z" fill="none" stroke="#3a3a3a" stroke-width="0.75" />
<circle cx="461.1" cy="403.1" r="1.75" fill="none" stroke="#3a3a3a" stroke-width="0.75"/>
<circle cx="461.1" cy="413" r="1.75" fill="none" stroke="#3a3a3a" stroke-width="0.75"/>
<circle cx="457.6" cy="425.7" r="1.75" fill="none" stroke="#3a3a3a" stroke-width="0.75"/>
<path d="M462.3 428.9L464.3 425.4L466.3 428.9Z" fill="none" stroke="#3a3a3a" stroke-width="0.75" />
<circle cx="461.1" cy="434.2" r="1.75" fill="none" stroke="#3a3a3a" stroke-width="0.75"/>
<path d="M462.3 441.1L464.3 437.6L466.3 441.1Z" fill="none" stroke="#3a3a3a" stroke-width="0.75" />
<circle cx="457.6" cy="442.3" r="1.75" fill="none" stroke="#3a3a3a" stroke-width="0.75"/>
<text x="390.4" y="405.1" font-size="12.2" text-anchor="middle" font-weight="bold" class="h" textLength="30.4" lengthAdjust="spacingAndGlyphs" transform="rotate(-90 390.4 405.1)" >Slope</text>
</svg>
</body></html>
